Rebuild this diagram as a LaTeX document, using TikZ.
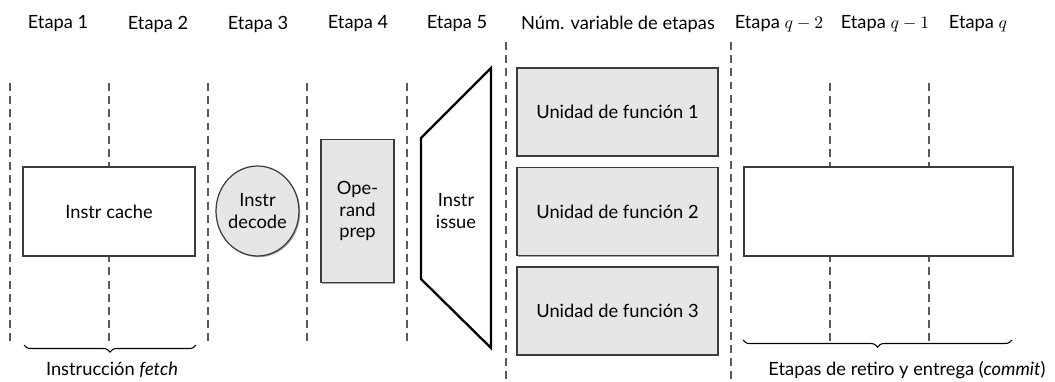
\documentclass[tikz,border=0pt]{standalone}
\usepackage{fontspec}
\setmainfont{Lato}[Scale=1.04]
\usetikzlibrary{decorations.pathreplacing,shadows,shapes.geometric}
\definecolor{unitgray}{HTML}{E6E6E8}
\definecolor{edgegray}{HTML}{3C3C3C}
\definecolor{linegray}{HTML}{5A5A5A}
\tikzset{
  stageline/.style={draw=linegray, line width=0.6pt, dash pattern=on 4.5pt off 3pt},
  plainbox/.style={draw=edgegray, fill=white, line width=0.7pt, inner sep=0pt},
  graybox/.style={draw=edgegray, fill=unitgray, line width=0.7pt, inner sep=0pt, align=center,
    drop shadow={shadow xshift=0.7pt, shadow yshift=-0.7pt, opacity=0.7}},
  bracket/.style={decorate, decoration={brace, mirror, amplitude=4pt}, line width=0.6pt},
}
\begin{document}
\begin{tikzpicture}[x=0.02cm,y=-0.02cm]
  \useasboundingbox (0,0) rectangle (1055,382);
  % stage headings
  \node (h1) at (58,24) {Etapa 1};
  \node (h2) at (158,24) {Etapa 2};
  \node (h3) at (258,24) {Etapa 3};
  \node (h4) at (358,24) {Etapa 4};
  \node (h5) at (457,24) {Etapa 5};
  \node (hv) at (618,24) {Núm. variable de etapas};
  \node (hq2) at (779,24) {Etapa $q-2$};
  \node (hq1) at (885,24) {Etapa $q-1$};
  \node (hq) at (978,24) {Etapa $q$};
  % stage borders
  \foreach \x in {10,109,208,307,407,830,929}
    \draw[stageline] (\x,83) -- (\x,345);
  \draw[stageline] (506,42) -- (506,382);
  \draw[stageline] (731,42) -- (731,382);
  % fetch
  \node[plainbox, minimum width=3.44cm, minimum height=1.78cm] (cache) at (109,211.5) {Instr cache};
  % decode
  \node[graybox, ellipse, minimum width=1.42cm, minimum height=1.8cm] (decode) at (257.5,211) {Instr\\decode};
  % operand
  \node[graybox, minimum width=1.46cm, minimum height=2.86cm] (operand) at (357.5,211) {Ope-\\rand\\prep};
  % issue
  \draw[line width=1.3pt, line join=miter] (421,138) -- (491,68) -- (491,348) -- (421,279) -- cycle;
  \node[align=center] (issue) at (456,211) {Instr\\issue};
  % function units
  \node[graybox, minimum width=4.02cm, minimum height=1.76cm] (fu1) at (617.5,112) {Unidad de función 1};
  \node[graybox, minimum width=4.02cm, minimum height=1.76cm] (fu2) at (617.5,211.5) {Unidad de función 2};
  \node[graybox, minimum width=4.02cm, minimum height=1.76cm] (fu3) at (617.5,311) {Unidad de función 3};
  % retire
  \node[plainbox, minimum width=5.38cm, minimum height=1.78cm] (retire) at (878.5,211.5) {};
  % braces
  \draw[bracket] (24,345) -- (196,345);
  \node (fetch) at (112,370) {Instrucción \textit{fetch}};
  \draw[bracket] (743,340) -- (1012,340);
  \node (commit) at (907,370) {Etapas de retiro y entrega (\textit{commit})};
\end{tikzpicture}
\end{document}
